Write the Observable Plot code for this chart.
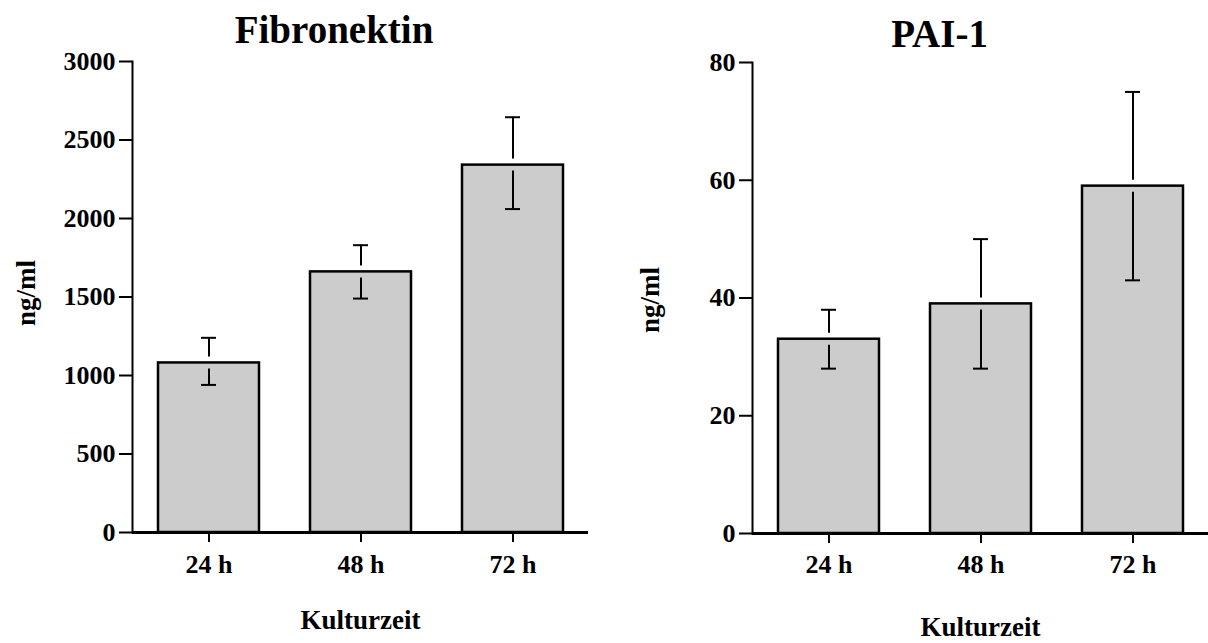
<!DOCTYPE html>
<html>
<head>
<meta charset="utf-8">
<script src="https://cdn.jsdelivr.net/npm/d3@7"></script>
<script src="https://cdn.jsdelivr.net/npm/@observablehq/plot@0.6"></script>
<style>
  html, body { margin: 0; padding: 0; background: white; }
  #wrap { display: flex; width: 1208px; height: 643px; overflow: hidden; }
  #wrap > * { flex: none; }
  svg { overflow: visible; }
</style>
</head>
<body>
<div id="wrap"></div>
<script>
const categories = ["24 h", "48 h", "72 h"];

const fibroTitle = "Fibronektin";
const fibroMean  = [1080, 1660, 2340];
const fibroUpper = [1240, 1830, 2645];
const fibroLower = [940, 1490, 2060];
const fibroTicks = [0, 500, 1000, 1500, 2000, 2500, 3000];

const paiTitle = "PAI-1";
const paiMean  = [33, 39, 59];
const paiUpper = [38, 50, 75];
const paiLower = [28, 28, 43];
const paiTicks = [0, 20, 40, 60, 80];

const yLabel = "ng/ml";
const xLabel = "Kulturzeit";

const FONT = "'Liberation Serif', 'Times New Roman', Times, serif";

function panel({title, mean, upper, lower, ticks, yMax, cfg}) {
  const data = categories.map((c, i) => ({cat: c, v: mean[i], hi: upper[i], lo: lower[i]}));
  return Plot.plot({
    width: 604,
    height: 643,
    marginLeft: cfg.marginLeft,
    marginRight: cfg.marginRight,
    marginTop: cfg.marginTop,
    marginBottom: cfg.marginBottom,
    style: {fontFamily: FONT, fontWeight: "bold", fontSize: "26px", color: "black", background: "white", overflow: "visible"},
    x: {domain: categories, paddingInner: 0.336, paddingOuter: 0.168, label: null},
    y: {domain: [0, yMax], label: null},
    marks: [
      Plot.barY(data, {x: "cat", y: "v", fill: "#cccccc", stroke: "black", strokeWidth: 2.5}),
      Plot.ruleX(data, {x: "cat", y1: "hi", y2: "v", insetBottom: 6, stroke: "black", strokeWidth: 2}),
      Plot.ruleX(data, {x: "cat", y1: "v", y2: "lo", insetTop: 6, stroke: "black", strokeWidth: 2}),
      Plot.tickY(data, {x: "cat", y: "hi", stroke: "black", strokeWidth: 2, insetLeft: cfg.capInset, insetRight: cfg.capInset}),
      Plot.tickY(data, {x: "cat", y: "lo", stroke: "black", strokeWidth: 2, insetLeft: cfg.capInset, insetRight: cfg.capInset}),
      Plot.frame({anchor: "left", stroke: "black", strokeWidth: 2}),
      Plot.ruleY([0], {stroke: "black", strokeWidth: 3}),
      Plot.axisY({ticks: ticks, tickFormat: (d) => String(d), tickSize: cfg.yTickSize, tickPadding: 4, strokeWidth: 2, fontSize: 26, fontWeight: "bold", label: null}),
      Plot.axisX({tickSize: 10, tickPadding: cfg.xTickPadding, strokeWidth: 2, fontSize: 26, fontWeight: "bold", label: null}),
      Plot.text([title], {frameAnchor: "top", lineAnchor: "bottom", dx: cfg.titleDx, dy: cfg.titleDy, fontSize: 39, fontWeight: "bold", fill: "black"}),
      Plot.text([yLabel], {frameAnchor: "left", rotate: -90, textAnchor: "middle", lineAnchor: "middle", dx: cfg.yLabelDx, dy: cfg.yLabelDy, fontSize: 27, fontWeight: "bold", fill: "black"}),
      Plot.text([xLabel], {frameAnchor: "bottom", lineAnchor: "bottom", dy: cfg.xLabelDy, fontSize: 27, fontWeight: "bold", fill: "black"})
    ]
  });
}

const wrap = document.getElementById("wrap");
wrap.appendChild(panel({
  title: fibroTitle, mean: fibroMean, upper: fibroUpper, lower: fibroLower, ticks: fibroTicks, yMax: 3000,
  cfg: {marginLeft: 132, marginRight: 16, marginTop: 61, marginBottom: 111, capInset: 43, yTickSize: 13,
        xTickPadding: 12, titleDx: -26.5, titleDy: -19, yLabelDx: -106, yLabelDy: -4, xLabelDy: 96}
}));
wrap.appendChild(panel({
  title: paiTitle, mean: paiMean, upper: paiUpper, lower: paiLower, ticks: paiTicks, yMax: 80,
  cfg: {marginLeft: 148, marginRight: 0, marginTop: 62, marginBottom: 110, capInset: 43, yTickSize: 13,
        xTickPadding: 11, titleDx: -41, titleDy: -16, yLabelDx: -102, yLabelDy: 2, xLabelDy: 102}
}));
</script>
</body>
</html>
